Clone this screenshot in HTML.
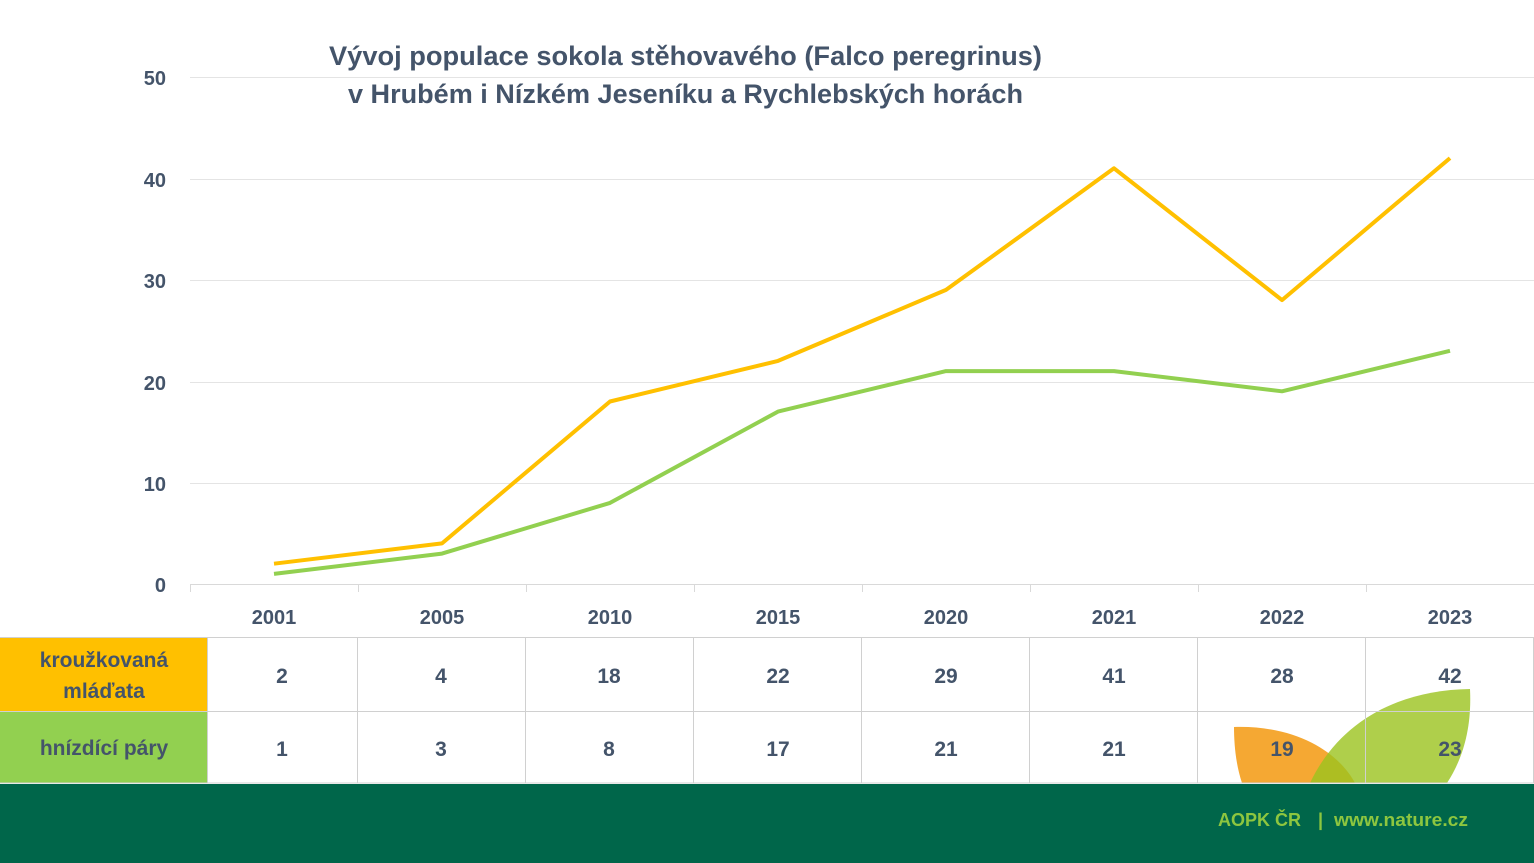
<!DOCTYPE html>
<html><head><meta charset="utf-8"><style>
html,body{margin:0;padding:0;background:#fff}
svg{display:block}
text{font-family:"Liberation Sans","DejaVu Sans",sans-serif;font-weight:bold;fill:#44546A}
</style></head><body>
<svg width="1534" height="863" viewBox="0 0 1534 863" xmlns="http://www.w3.org/2000/svg">
<rect width="1534" height="863" fill="#fff"/>
<g stroke="#E4E4E4" stroke-width="1">
<line x1="190" y1="77.5" x2="1534" y2="77.5"/>
<line x1="190" y1="179.5" x2="1534" y2="179.5"/>
<line x1="190" y1="280.5" x2="1534" y2="280.5"/>
<line x1="190" y1="382.5" x2="1534" y2="382.5"/>
<line x1="190" y1="483.5" x2="1534" y2="483.5"/>
</g>
<g stroke="#D9D9D9" stroke-width="1">
<line x1="190" y1="584.5" x2="1534" y2="584.5"/>
<line x1="190.5" y1="584" x2="190.5" y2="592"/><line x1="358.5" y1="584" x2="358.5" y2="592"/><line x1="526.5" y1="584" x2="526.5" y2="592"/><line x1="694.5" y1="584" x2="694.5" y2="592"/><line x1="862.5" y1="584" x2="862.5" y2="592"/><line x1="1030.5" y1="584" x2="1030.5" y2="592"/><line x1="1198.5" y1="584" x2="1198.5" y2="592"/><line x1="1366.5" y1="584" x2="1366.5" y2="592"/>
</g>
<g font-size="20" text-anchor="end">
<text x="166" y="85">50</text><text x="166" y="187">40</text><text x="166" y="288">30</text><text x="166" y="390">20</text><text x="166" y="491">10</text><text x="166" y="592">0</text>
</g>
<text x="329" y="65" font-size="27" textLength="713" lengthAdjust="spacingAndGlyphs">Vývoj populace sokola stěhovavého (Falco peregrinus)</text>
<text x="348" y="103" font-size="27" textLength="675" lengthAdjust="spacingAndGlyphs">v Hrubém i Nízkém Jeseníku a Rychlebských horách</text>
<polyline fill="none" stroke="#FFC000" stroke-width="4" stroke-linejoin="round" points="274,563.7 442,543.4 610,401.5 778,360.9 946,289.9 1114,168.3 1282,300.1 1450,158.1"/>
<polyline fill="none" stroke="#92D050" stroke-width="4" stroke-linejoin="round" points="274,573.9 442,553.6 610,502.9 778,411.6 946,371.1 1114,371.1 1282,391.3 1450,350.8"/>
<g font-size="20" text-anchor="middle">
<text x="274" y="624">2001</text><text x="442" y="624">2005</text><text x="610" y="624">2010</text><text x="778" y="624">2015</text><text x="946" y="624">2020</text><text x="1114" y="624">2021</text><text x="1282" y="624">2022</text><text x="1450" y="624">2023</text>
</g>
<rect x="0" y="637" width="207" height="74" fill="#FFC000"/>
<rect x="0" y="711" width="207" height="72" fill="#92D050"/>
<path d="M1234,727 C1300,725 1340,755 1355,783 L1242,783 C1236,765 1234,745 1234,727 Z" fill="#F39200" opacity="0.8"/>
<path d="M1310,783 C1340,720 1400,690 1470,689 C1472,730 1462,760 1447,783 Z" fill="#9BC31E" opacity="0.8"/>
<g stroke="#D0D0D0" stroke-width="1" fill="none">
<line x1="0" y1="637.5" x2="1534" y2="637.5"/>
<line x1="0" y1="711.5" x2="1534" y2="711.5"/>
<line x1="0" y1="783" x2="1534" y2="783"/>
<line x1="207.5" y1="637" x2="207.5" y2="783"/><line x1="357.5" y1="637" x2="357.5" y2="783"/><line x1="525.5" y1="637" x2="525.5" y2="783"/><line x1="693.5" y1="637" x2="693.5" y2="783"/><line x1="861.5" y1="637" x2="861.5" y2="783"/><line x1="1029.5" y1="637" x2="1029.5" y2="783"/><line x1="1197.5" y1="637" x2="1197.5" y2="783"/><line x1="1365.5" y1="637" x2="1365.5" y2="783"/><line x1="1533.5" y1="637" x2="1533.5" y2="783"/>
</g>
<g font-size="21" text-anchor="middle">
<text x="104" y="667">kroužkovaná</text><text x="104" y="698">mláďata</text>
<text x="104" y="755">hnízdící páry</text>
<text x="282" y="683">2</text><text x="441" y="683">4</text><text x="609" y="683">18</text><text x="778" y="683">22</text><text x="946" y="683">29</text><text x="1114" y="683">41</text><text x="1282" y="683">28</text><text x="1450" y="683">42</text>
<text x="282" y="756">1</text><text x="441" y="756">3</text><text x="609" y="756">8</text><text x="778" y="756">17</text><text x="946" y="756">21</text><text x="1114" y="756">21</text><text x="1282" y="756">19</text><text x="1450" y="756">23</text>
</g>
<rect x="0" y="784" width="1534" height="79" fill="#00664A"/>
<text x="1218" y="826" font-size="18" style="fill:#8DC63F">AOPK ČR</text>
<text x="1318" y="826" font-size="18" style="fill:#8DC63F">|</text>
<text x="1334" y="826" font-size="18" style="fill:#8DC63F" textLength="134" lengthAdjust="spacingAndGlyphs">www.nature.cz</text>
</svg>
</body></html>
